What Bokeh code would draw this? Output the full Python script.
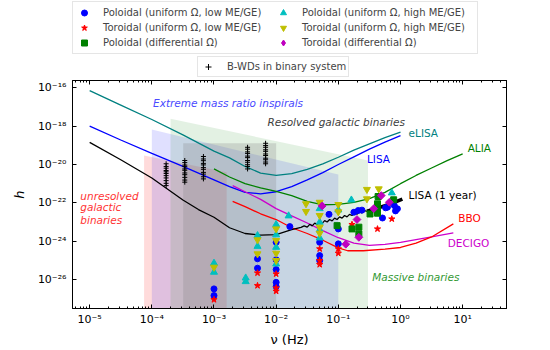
import numpy as np
from bokeh.plotting import figure
from bokeh.layouts import column
from bokeh.models import (Range1d, LogAxis, FixedTicker, CustomJSTickFormatter,
                          Legend, LegendItem, Label)
from bokeh.embed import file_html
from bokeh.resources import INLINE

# ---------------- data (log10 of frequency [Hz] and strain h) ----------------
elisa_logf = [-5.0, -4.5, -4.0, -3.5, -3.0, -2.75, -2.5, -2.25, -2.0, -1.75, -1.5, -1.25, -1.0, -0.75, -0.5, -0.25, 0.0]
elisa_logh = [-16.14, -16.9, -17.65, -18.45, -19.3, -19.65, -20.1, -20.45, -20.57, -20.47, -20.25, -19.97, -19.62, -19.25, -18.92, -18.6, -18.31]

lisa_logf = [-5.0, -4.5, -4.0, -3.5, -3.0, -2.75, -2.5, -2.25, -2.0, -1.75, -1.5, -1.25, -1.0, -0.75, -0.5, -0.25, 0.0]
lisa_logh = [-18.0, -18.72, -19.42, -20.1, -20.8, -21.15, -21.45, -21.53, -21.42, -21.15, -20.8, -20.42, -20.0, -19.6, -19.2, -18.83, -18.49]

alia_logf = [-3.0, -2.75, -2.5, -2.25, -2.0, -1.75, -1.5, -1.25, -1.0, -0.75, -0.5, -0.25, 0.0, 0.25, 0.5, 0.75, 1.0]
alia_logh = [-20.23, -20.65, -21.0, -21.22, -21.4, -21.62, -21.92, -22.1, -22.08, -21.97, -21.78, -21.45, -21.0, -20.57, -20.18, -19.8, -19.44]

decigo_logf = [-2.7, -2.5, -2.25, -2.0, -1.75, -1.5, -1.25, -1.0, -0.75, -0.5, -0.25, 0.0, 0.25, 0.5, 0.85]
decigo_logh = [-21.1, -21.42, -21.82, -22.3, -22.68, -23.05, -23.45, -23.82, -24.1, -24.22, -24.17, -24.06, -23.92, -23.78, -23.57]

bbo_logf = [-2.7, -2.5, -2.25, -2.0, -1.75, -1.5, -1.25, -1.0, -0.85, -0.6, -0.25, 0.0, 0.25, 0.5, 0.85]
bbo_logh = [-21.92, -22.2, -22.57, -22.87, -23.3, -23.6, -23.95, -24.35, -24.5, -24.5, -24.42, -24.33, -24.1, -23.78, -23.1]

lisa1yr_logf = [-5.0, -4.5, -4.0, -3.5, -3.25, -3.0, -2.75, -2.5, -2.25, -2.0, -1.75, -1.6,
                -1.55, -1.5, -1.46, -1.42, -1.38, -1.34, -1.3, -1.26, -1.22, -1.18, -1.14, -1.1,
                -1.06, -1.02, -0.98, -0.94, -0.9, -0.86, -0.82, -0.78, -0.74, -0.7, -0.66, -0.62,
                -0.58, -0.54]
lisa1yr_logh = [-18.84, -19.75, -20.7, -21.85, -22.35, -22.75, -23.3, -23.6, -23.68, -23.66, -23.4, -23.28,
                -23.2, -23.27, -23.12, -23.2, -23.06, -23.13, -22.99, -23.07, -22.93, -23.0, -22.87, -22.94,
                -22.8, -22.87, -22.73, -22.8, -22.66, -22.73, -22.6, -22.66, -22.53, -22.59, -22.47, -22.52,
                -22.41, -22.44]
lisa1yr_hi_logf = [-0.54, -0.4, -0.25, -0.1, 0.03]
lisa1yr_hi_logh = [-22.44, -22.3, -22.15, -21.98, -21.8]

# B-WDs in binary systems
bwd_logf = [-3.77] * 11 + [-3.47] * 11 + [-3.17] * 11 + [-2.46] * 11 + [-2.17] * 11
bwd_logh = [-19.96, -20.1, -20.19, -20.31, -20.38, -20.47, -20.58, -20.7, -20.84, -20.98, -21.1,
            -19.79, -19.9, -20.03, -20.11, -20.23, -20.3, -20.44, -20.53, -20.67, -20.81, -20.92,
            -19.58, -19.71, -19.8, -19.94, -20.02, -20.16, -20.25, -20.41, -20.5, -20.64, -20.75,
            -19.1, -19.2, -19.34, -19.42, -19.56, -19.64, -19.79, -19.88, -20.01, -20.1, -20.23,
            -18.89, -19.01, -19.1, -19.23, -19.31, -19.45, -19.53, -19.67, -19.75, -19.87, -19.96]

# Poloidal (uniform Omega, low ME/GE)
pol_low_logf = [-3.0, -3.0, -2.3, -2.3, -2.0, -2.0, -2.0, -2.0, -2.0, -1.78, -1.3, -1.3, -1.3,
                -1.0, -1.0, -1.15, -0.75, -0.68, -0.62, -0.29, -0.24, -0.21, -0.1, -0.05, -0.08]
pol_low_logh = [-26.49, -26.84, -24.92, -25.41, -24.06, -24.97, -25.48, -26.15, -26.37, -23.24, -24.06, -24.75, -25.01,
                -23.36, -24.14, -22.6, -22.49, -22.4, -22.38, -22.79, -22.26, -22.23, -22.14, -22.31, -22.42]

# Toroidal (uniform Omega, low ME/GE)
tor_low_logf = [-3.0, -2.3, -2.3, -2.0, -2.0, -2.0, -1.3, -1.3, -1.3, -1.0, -1.0, -0.78, -0.37, -0.14]
tor_low_logh = [-27.05, -25.66, -26.32, -25.71, -26.44, -26.61, -24.4, -25.01, -25.22, -24.4, -24.63, -23.13, -23.36, -22.84]

# Poloidal (differential Omega)
pol_diff_logf = [-1.02, -0.78, -0.67, -0.67, -0.49, -0.37, -0.37, -0.37, -0.11, -0.36]
pol_diff_logh = [-23.19, -23.36, -23.27, -23.62, -22.58, -22.54, -22.05, -22.4, -21.84, -21.67]

# Poloidal (uniform Omega, high ME/GE)
pol_high_logf = [-3.0, -3.0, -2.49, -2.49, -2.3, -2.3, -2.0, -2.0, -2.0, -2.0, -1.8,
                 -1.3, -1.3, -1.3, -1.3, -1.0, -0.79, -0.14]
pol_high_logh = [-25.15, -25.62, -25.92, -26.11, -23.71, -24.27, -23.13, -23.67, -24.32, -25.19, -22.68,
                 -22.3, -23.01, -23.41, -23.83, -22.37, -21.85, -21.48]

# Toroidal (uniform Omega, high ME/GE)
tor_high_logf = [-3.0, -2.3, -2.3, -2.0, -2.0, -2.0, -2.0, -1.52, -1.52,
                 -1.3, -1.3, -1.3, -1.3, -1.0, -1.0, -0.54, -0.35, -0.54]
tor_high_logh = [-25.36, -23.93, -24.66, -23.36, -23.97, -24.63, -25.01, -22.05, -22.45,
                 -21.97, -22.66, -23.27, -23.59, -22.09, -22.47, -21.3, -21.27, -21.79]

# Toroidal (differential Omega)
tor_diff_logf = [-1.26, -0.88, -0.7, -0.67, -0.43, -0.31, -0.18]
tor_diff_logh = [-22.16, -24.16, -22.87, -23.8, -22.3, -21.62, -21.97]

# Shaded source regions: frequency edges and top strain at each edge
unres_f = [7.5e-5, 1.6e-3]
unres_h = [2.95e-20, 4.0e-21]
emri_f = [1e-4, 1e-1]
emri_h = [6.8e-19, 3.0e-21]
massive_f = [2e-4, 0.3]
massive_h = [2.45e-18, 1.62e-20]
resolved_f = [3.2e-4, 1e-2]
resolved_h = [1.29e-19, 1.29e-19]

x_ticks = [1e-5, 1e-4, 1e-3, 1e-2, 1e-1, 1e0, 1e1]
y_ticks = [1e-16, 1e-18, 1e-20, 1e-22, 1e-24, 1e-26]

legend_labels = ["Poloidal (uniform \u03a9, low ME/GE)",
                 "Toroidal (uniform \u03a9, low ME/GE)",
                 "Poloidal (differential \u03a9)",
                 "Poloidal (uniform \u03a9, high ME/GE)",
                 "Toroidal (uniform \u03a9, high ME/GE)",
                 "Toroidal (differential \u03a9)"]
bwd_label = "B-WDs in binary system"


def p10(a):
    return [10.0 ** v for v in a]


FONT = "DejaVu Sans"
FLOOR = 1e-32

# marker styles per series: (marker, size, color, angle, legend marker)
styles = [("circle", 6, "blue", 0.0, "circle"),
          ("star", 6.5, "red", 0.0, "star"),
          ("square", 6, "green", 0.0, "square"),
          ("triangle", 7, "#00bfbf", 0.0, "triangle"),
          ("inverted_triangle", 7, "#bfbf00", 0.0, "inverted_triangle"),
          ("square", 5.5, "#bf00bf", 0.785398, "diamond")]

series = [(pol_low_logf, pol_low_logh), (tor_low_logf, tor_low_logh),
          (pol_diff_logf, pol_diff_logh), (pol_high_logf, pol_high_logh),
          (tor_high_logf, tor_high_logh), (tor_diff_logf, tor_diff_logh)]

# ---------------- main plot ----------------
p = figure(width=550, height=271, x_axis_type="log", y_axis_type="log",
           x_range=Range1d(10 ** -5.276, 10 ** 1.705),
           y_range=Range1d(10 ** -27.514, 10 ** -15.614),
           output_backend="svg", toolbar_location=None,
           min_border_left=72, min_border_right=44, min_border_top=1, min_border_bottom=42)
p.grid.visible = False
p.outline_line_color = "black"
p.outline_line_width = 1
p.background_fill_color = "white"
p.border_fill_color = "white"


def region(fx, hy, color, alpha):
    p.patch([fx[0], fx[1], fx[1], fx[0]], [hy[0], hy[1], FLOOR, FLOOR],
            fill_color=color, fill_alpha=alpha, line_color=None)


region(unres_f, unres_h, "red", 0.14)
region(emri_f, emri_h, "blue", 0.12)
region(massive_f, massive_h, "green", 0.11)
region(resolved_f, resolved_h, "gray", 0.25)

p.line(p10(elisa_logf), p10(elisa_logh), line_color="#008080", line_width=1.3)
p.line(p10(lisa_logf), p10(lisa_logh), line_color="blue", line_width=1.3)
p.line(p10(alia_logf), p10(alia_logh), line_color="green", line_width=1.3)
p.line(p10(decigo_logf), p10(decigo_logh), line_color="#cc00cc", line_width=1.3)
p.line(p10(bbo_logf), p10(bbo_logh), line_color="red", line_width=1.3)
p.line(p10(lisa1yr_logf), p10(lisa1yr_logh), line_color="black", line_width=1.3)
p.line(p10(lisa1yr_hi_logf), p10(lisa1yr_hi_logh), line_color="black", line_width=3.5)

p.scatter(p10(bwd_logf), p10(bwd_logh), marker="cross", size=5, line_color="black", line_width=1)

for (lf, lh), (mk, sz, col, ang, _lm) in zip(series, styles):
    p.scatter(p10(lf), p10(lh), marker=mk, size=sz, color=col, angle=ang)


def lab(text, lf, lh, color, italic=False, size="10.5px"):
    p.add_layout(Label(x=10 ** lf, y=10 ** lh, text=text, text_color=color,
                       text_font=FONT, text_font_size=size,
                       text_font_style="italic" if italic else "normal",
                       text_align="left", text_baseline="middle"))


lab("Extreme mass ratio inspirals", -3.98, -16.81, "#4a4aff", True)
lab("Resolved galactic binaries", -2.14, -17.79, "#404040", True)
lab("eLISA", 0.13, -18.38, "#008080")
lab("LISA", -0.54, -19.70, "blue")
lab("ALIA", 1.08, -19.16, "green")
lab("LISA (1 year)", 0.13, -21.57, "black")
lab("BBO", 0.93, -22.77, "red")
lab("DECIGO", 0.76, -24.07, "#cc00cc")
lab("Massive binaries", -0.455, -25.89, "#339933", True)
lab("unresolved", -5.15, -21.62, "#ff3333", True)
lab("galactic", -5.15, -22.24, "#ff3333", True)
lab("binaries", -5.15, -22.87, "#ff3333", True)

sup_js = """
const sup = {'0':'\u2070','1':'\u00b9','2':'\u00b2','3':'\u00b3','4':'\u2074','5':'\u2075',
             '6':'\u2076','7':'\u2077','8':'\u2078','9':'\u2079','-':'\u207b'};
const e = Math.round(Math.log10(tick));
return '10' + String(e).split('').map(c => sup[c]).join('');
"""
fmt = CustomJSTickFormatter(code=sup_js)
x_minor = [k * 10.0 ** n for n in range(-6, 2) for k in range(2, 10)]


def xticker():
    return FixedTicker(ticks=x_ticks, minor_ticks=x_minor)


def yticker():
    return FixedTicker(ticks=y_ticks, minor_ticks=[])


def style(ax):
    ax.axis_line_color = "black"
    ax.major_tick_in = 4
    ax.major_tick_out = 0
    ax.minor_tick_in = 2
    ax.minor_tick_out = 0
    ax.major_tick_line_color = "black"
    ax.minor_tick_line_color = "black"
    ax.major_label_text_font = FONT
    ax.major_label_text_font_size = "11px"
    ax.major_label_text_color = "black"
    ax.axis_label_text_font = FONT
    ax.axis_label_text_font_size = "13px"
    ax.axis_label_text_color = "black"


xa = p.xaxis[0]
xa.ticker = xticker()
xa.formatter = fmt
xa.axis_label = "\u03bd (Hz)"
xa.axis_label_standoff = 3
xa.major_label_standoff = 4
style(xa)
xa.axis_label_text_font_style = "normal"

ya = p.yaxis[0]
ya.ticker = yticker()
ya.formatter = fmt
ya.axis_label = "h"
ya.axis_label_standoff = 8
ya.major_label_standoff = 6
style(ya)
ya.axis_label_text_font_style = "italic"

for side, tk in (("above", xticker()), ("right", yticker())):
    ax = LogAxis(ticker=tk, formatter=CustomJSTickFormatter(code="return '';"))
    style(ax)
    ax.major_label_standoff = 0
    ax.major_label_text_font_size = "0px"
    p.add_layout(ax, side)

# ---------------- legend strip above the plot (frame aligned with main plot) ----------------
lp = figure(width=550, height=79, x_range=Range1d(0, 1), y_range=Range1d(0, 1),
            output_backend="svg", toolbar_location=None,
            x_axis_location=None, y_axis_location=None,
            min_border_left=0, min_border_right=0, min_border_top=0, min_border_bottom=0)
lp.grid.visible = False
lp.outline_line_color = None
lp.background_fill_color = "white"
lp.border_fill_color = "white"

# legend proxies carry each series' first point; it lies outside this strip's ranges
items1 = []
for text, (lf, lh), (mk, sz, col, ang, lm) in zip(legend_labels, series, styles):
    r = lp.scatter(x=lf[:1], y=lh[:1], marker=lm, size=sz, color=col)
    items1.append(LegendItem(label=text, renderers=[r]))
r_b = lp.scatter(x=bwd_logf[:1], y=bwd_logh[:1], marker="cross", size=5, line_color="black", line_width=1)

common = dict(glyph_width=16, glyph_height=15, label_height=15, label_standoff=11,
              margin=0, label_text_font=FONT, label_text_font_size="10px",
              border_line_color="#cccccc", border_line_width=1,
              background_fill_color="white", background_fill_alpha=1.0)
leg1 = Legend(items=items1, location=(0, 25), orientation="vertical", ncols=2,
              label_width=172, spacing=0, padding=3, **common)
lp.add_layout(leg1, "center")
leg2 = Legend(items=[LegendItem(label=bwd_label, renderers=[r_b])],
              location=(125, 2), orientation="vertical", spacing=0, padding=2, **common)
lp.add_layout(leg2, "center")

layout = column(lp, p, spacing=0)
open("out.html", "w").write(file_html(layout, INLINE))
